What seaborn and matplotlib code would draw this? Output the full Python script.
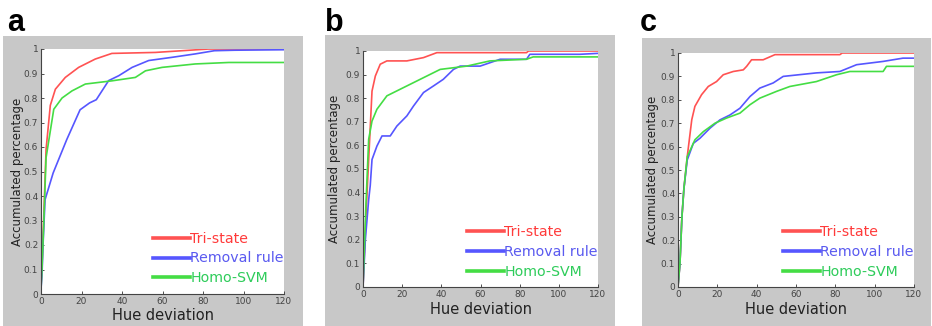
import numpy as np
import matplotlib
matplotlib.use("Agg")
import matplotlib.pyplot as plt
from matplotlib.patches import Rectangle
import seaborn as sns
import pandas as pd

SERIES = ["Tri-state", "Removal rule", "Homo-SVM"]
LINE_COLORS = ["#ff5252", "#5656ff", "#44dd44"]
TEXT_COLORS = ["#ff3b3b", "#5a5af0", "#2ecc5a"]

X_TICKS = [0, 20, 40, 60, 80, 100, 120]
Y_TICKS = [0, 0.1, 0.2, 0.3, 0.4, 0.5, 0.6, 0.7, 0.8, 0.9, 1]
Y_TICK_LABELS = ["0", "0.1", "0.2", "0.3", "0.4", "0.5", "0.6", "0.7", "0.8", "0.9", "1"]

# panel a
A_RED_X = [0, 0.5, 1.5, 2.5, 4.6, 7.1, 12, 18.6, 26.8, 35, 56.5, 82.8, 120]
A_RED_Y = [0.03, 0.12, 0.35, 0.59, 0.77, 0.836, 0.884, 0.925, 0.959, 0.982, 0.986, 1.0, 1.0]
A_BLUE_X = [0, 0.5, 1, 2, 6, 12.7, 19.3, 24, 27.3, 33.4, 38.4, 45, 53.2, 64.7, 76.2, 85.6, 95.5, 120]
A_BLUE_Y = [0.02, 0.08, 0.2, 0.385, 0.494, 0.63, 0.752, 0.78, 0.793, 0.871, 0.891, 0.925, 0.953,
            0.966, 0.98, 0.993, 0.995, 0.997]
A_GREEN_X = [0, 0.5, 1.5, 2.5, 6.3, 10.4, 15.3, 21.9, 35, 46.6, 51.6, 59.8, 76.2, 92.7, 120]
A_GREEN_Y = [0.02, 0.1, 0.32, 0.556, 0.754, 0.80, 0.829, 0.857, 0.87, 0.884, 0.911, 0.925, 0.939,
             0.945, 0.945]

# panel b
B_RED_X = [0, 1.5, 2.9, 4.6, 6.3, 8.8, 12.2, 22.4, 30.9, 37.7, 83.5, 84.5, 120]
B_RED_Y = [0, 0.3, 0.54, 0.83, 0.894, 0.944, 0.958, 0.958, 0.972, 0.993, 0.993, 1.0, 1.0]
B_BLUE_X = [0, 1.2, 2.9, 3.7, 4.6, 7.1, 9.7, 13.9, 17.3, 22.4, 25.8, 30.9, 36, 41, 46.2, 49.6,
            59.8, 70, 83.5, 85.2, 110.7, 120]
B_BLUE_Y = [0, 0.2, 0.37, 0.43, 0.54, 0.597, 0.64, 0.64, 0.682, 0.725, 0.767, 0.824, 0.852, 0.88,
            0.922, 0.936, 0.936, 0.965, 0.965, 0.986, 0.986, 0.99]
B_GREEN_X = [0, 1.5, 2.9, 4.6, 7.1, 12.2, 19, 25.8, 32.6, 39.4, 53, 64.8, 83.5, 86.9, 120]
B_GREEN_Y = [0, 0.35, 0.626, 0.703, 0.753, 0.81, 0.838, 0.866, 0.894, 0.922, 0.936, 0.958, 0.965,
             0.975, 0.975]

# panel c
C_RED_X = [0, 1, 1.9, 3, 4.7, 7, 8.6, 12, 15.4, 19.6, 23, 28.1, 33.2, 34.9, 37.4, 43.3, 49.3,
           82.3, 83.5, 120]
C_RED_Y = [0, 0.1, 0.286, 0.42, 0.557, 0.715, 0.772, 0.822, 0.857, 0.878, 0.907, 0.921, 0.928,
           0.943, 0.971, 0.971, 0.993, 0.993, 1, 1]
C_BLUE_X = [0, 1, 2, 3, 4.7, 7.8, 11.2, 16.3, 21.3, 26.4, 31.5, 36.6, 41.6, 48.4, 53.5, 70.4,
            82.3, 90.8, 104.3, 114.4, 120]
C_BLUE_Y = [0, 0.1, 0.3, 0.42, 0.543, 0.614, 0.636, 0.679, 0.714, 0.735, 0.764, 0.814, 0.85,
            0.872, 0.9, 0.915, 0.921, 0.95, 0.964, 0.978, 0.978]
C_GREEN_X = [0, 1, 2, 3, 4.7, 8.6, 12.9, 18.8, 24.7, 31.5, 36.6, 41.6, 50.1, 56.9, 70.4, 80.6,
             87.4, 104.3, 106, 120]
C_GREEN_Y = [0, 0.1, 0.3, 0.42, 0.557, 0.629, 0.664, 0.7, 0.722, 0.743, 0.779, 0.807, 0.836,
             0.857, 0.878, 0.907, 0.921, 0.921, 0.943, 0.943]

PANELS = [
    ("a", [(A_RED_X, A_RED_Y), (A_BLUE_X, A_BLUE_Y), (A_GREEN_X, A_GREEN_Y)]),
    ("b", [(B_RED_X, B_RED_Y), (B_BLUE_X, B_BLUE_Y), (B_GREEN_X, B_GREEN_Y)]),
    ("c", [(C_RED_X, C_RED_Y), (C_BLUE_X, C_BLUE_Y), (C_GREEN_X, C_GREEN_Y)]),
]

W, H = 932, 326

# pixel layout: gray box (x0, x1, top), axes (left, right, top, bottom), letter x, ylabel offset
LAYOUT = [
    dict(box=(3, 303, 36), ax=(41, 284, 49, 294), letter=7, ylab=-0.095),
    dict(box=(325, 615, 35), ax=(363, 598, 51, 287), letter=325, ylab=-0.12),
    dict(box=(642, 931, 38), ax=(678, 914, 53, 287), letter=640, ylab=-0.11),
]


def main():
    plt.rcParams['font.family'] = ['DejaVu Sans']
    fig = plt.figure(figsize=(W / 100, H / 100), dpi=100)

    for (letter, curves), lay in zip(PANELS, LAYOUT):
        # gray frame behind each panel
        bx0, bx1, btop = lay["box"]
        fig.patches.append(Rectangle((bx0 / W, 0), (bx1 - bx0) / W, (H - btop) / H,
                                     transform=fig.transFigure, facecolor="#c8c8c8",
                                     edgecolor="none", zorder=-1))
        fig.text(lay["letter"] / W, (H - 31) / H, letter, fontsize=22, fontweight="bold",
                 family="Liberation Sans", ha="left", va="baseline")

        l, r, t, b = lay["ax"]
        ax = fig.add_axes([l / W, (H - b) / H, (r - l) / W, (b - t) / H])
        ax.set_facecolor("white")

        frames = []
        for name, (xs, ys) in zip(SERIES, curves):
            frames.append(pd.DataFrame({"x": xs, "y": ys, "method": name}))
        df = pd.concat(frames, ignore_index=True)
        sns.lineplot(data=df, x="x", y="y", hue="method", hue_order=SERIES,
                     palette=LINE_COLORS, linewidth=1.2, legend=False, ax=ax)

        ax.set_xlim(0, 120)
        ax.set_ylim(0, 1)
        ax.set_xticks(X_TICKS)
        ax.set_yticks(Y_TICKS)
        ax.set_yticklabels(Y_TICK_LABELS)
        ax.tick_params(direction="in", length=2.5, width=0.6, labelsize=6.5,
                       labelcolor="#444444", color="#333333", pad=2)
        for s in ["top", "right"]:
            ax.spines[s].set_visible(False)
        for s in ["left", "bottom"]:
            ax.spines[s].set_color("#444444")
            ax.spines[s].set_linewidth(0.8)

        ax.set_xlabel("Hue deviation", fontsize=10.5, color="#222222")
        ax.xaxis.label.set_va("center")
        ax.xaxis.set_label_coords(0.5, -22 / (b - t))
        ax.set_ylabel("Accumulated percentage", fontsize=8.5, color="#222222")
        ax.yaxis.label.set_va("center")
        ax.yaxis.set_label_coords(lay["ylab"], 0.5)

        leg = ax.legend(ax.get_lines(), SERIES, loc="lower right",
                        bbox_to_anchor=(1.0, 0.035), frameon=False, fontsize=10.2,
                        handlelength=2.6, handletextpad=0.05, labelspacing=0.42,
                        borderpad=0, borderaxespad=0)
        for hl, txt, tc in zip(leg.get_lines(), leg.get_texts(), TEXT_COLORS):
            hl.set_linewidth(2.6)
            txt.set_color(tc)

    fig.savefig("out.png", dpi=100)
    plt.close(fig)


if __name__ == "__main__":
    main()
